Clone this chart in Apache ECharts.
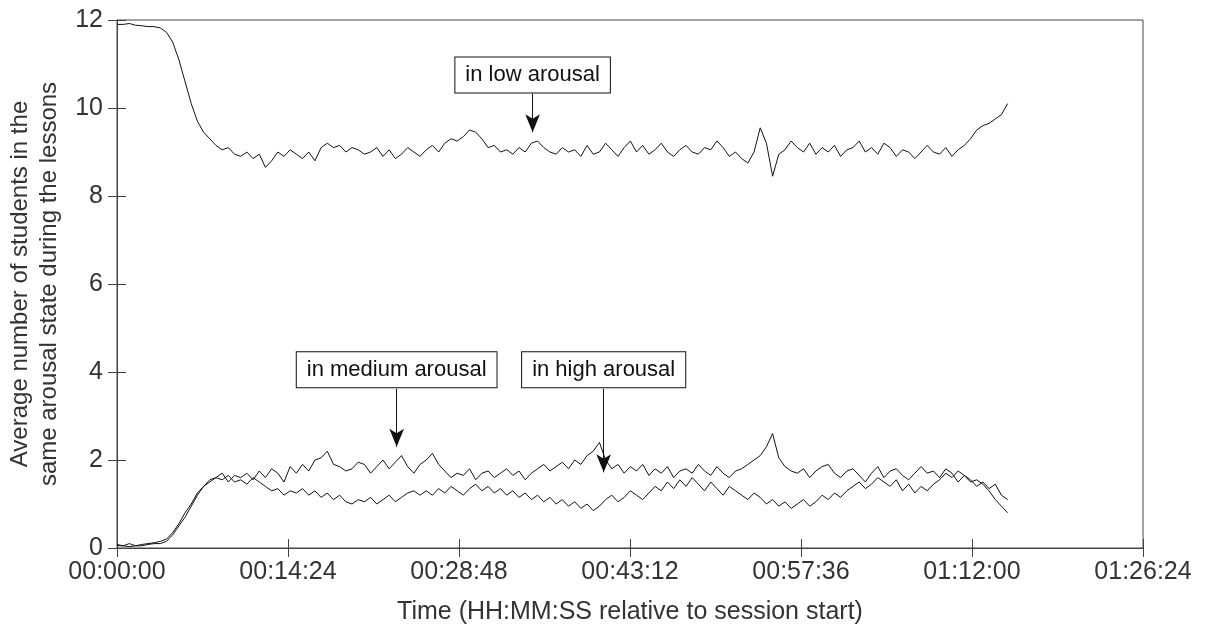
<!DOCTYPE html>
<html><head><meta charset="utf-8">
<script src="https://cdn.jsdelivr.net/npm/echarts@6/dist/echarts.min.js"></script>
<style>html,body{margin:0;background:#fff}#c{width:1205px;height:630px}</style>
</head><body><div id="c"></div>
<script>
const stepSeconds = 31.25;
const lowArousal = [11.9,11.9,11.92,11.88,11.87,11.85,11.85,11.82,11.72,11.5,
11.1,10.6,10.1,9.7,9.45,9.3,9.15,9.05,9.1,8.95,
8.9,9.0,8.85,8.95,8.65,8.8,9.0,8.9,9.05,8.95,
8.85,9.0,8.8,9.1,9.2,9.1,9.15,9.0,9.1,9.05,
8.95,9.0,9.1,8.9,9.05,8.85,8.95,9.1,9.0,8.9,
9.05,9.15,9.0,9.2,9.3,9.25,9.35,9.5,9.45,9.3,
9.1,9.15,9.0,9.05,8.95,9.1,9.0,9.2,9.25,9.1,
9.0,8.95,9.1,9.0,9.05,8.9,9.15,8.95,9.0,9.2,
9.05,8.9,9.1,9.25,9.0,9.15,8.95,9.05,9.2,9.0,
8.9,9.05,9.15,9.0,8.95,9.1,9.05,9.25,9.1,8.9,
9.0,8.85,8.75,9.0,9.55,9.2,8.45,8.95,9.05,9.25,
9.1,9.0,9.2,8.95,9.1,9.0,9.15,8.9,9.05,9.1,
9.25,9.0,9.1,8.95,9.2,9.1,8.9,9.05,9.0,8.85,
9.0,9.15,9.0,8.95,9.1,8.9,9.05,9.15,9.3,9.5,
9.6,9.65,9.75,9.85,10.1];
const mediumArousal = [0.05,0.05,0.03,0.05,0.05,0.08,0.1,0.1,0.15,0.3,
0.5,0.7,0.95,1.2,1.4,1.55,1.6,1.7,1.5,1.65,
1.6,1.7,1.55,1.75,1.6,1.8,1.7,1.5,1.85,1.7,
1.9,1.75,2.0,2.05,2.2,1.9,1.85,1.75,1.8,1.95,
1.9,1.7,1.85,2.0,1.8,1.95,2.1,1.85,1.7,1.9,
2.0,2.15,1.9,1.75,1.6,1.7,1.65,1.8,1.55,1.7,
1.75,1.6,1.7,1.8,1.65,1.75,1.55,1.7,1.8,1.9,
1.75,1.85,1.95,1.8,2.0,1.9,2.1,2.2,2.4,2.0,
1.8,1.9,1.7,1.85,1.75,1.9,1.65,1.8,1.7,1.85,
1.6,1.75,1.8,1.7,1.9,1.75,1.65,1.85,1.7,1.6,
1.75,1.8,1.9,2.0,2.1,2.3,2.6,2.05,1.85,1.75,
1.7,1.8,1.6,1.75,1.85,1.9,1.7,1.6,1.75,1.8,
1.65,1.5,1.7,1.85,1.6,1.75,1.8,1.65,1.55,1.7,
1.85,1.7,1.75,1.6,1.8,1.7,1.5,1.65,1.55,1.4,
1.5,1.35,1.45,1.2,1.1];
const highArousal = [0.08,0.05,0.1,0.05,0.08,0.1,0.12,0.15,0.2,0.35,
0.55,0.8,1.0,1.25,1.4,1.5,1.6,1.55,1.65,1.5,
1.55,1.45,1.6,1.5,1.4,1.3,1.35,1.2,1.3,1.25,
1.35,1.2,1.3,1.15,1.25,1.1,1.2,1.05,1.0,1.1,
1.05,1.15,1.0,1.1,1.2,1.05,1.15,1.25,1.3,1.2,
1.3,1.2,1.35,1.25,1.4,1.3,1.2,1.35,1.45,1.3,
1.4,1.25,1.35,1.2,1.3,1.15,1.25,1.1,1.2,1.05,
1.15,1.0,1.1,0.95,1.05,0.9,1.0,0.85,0.95,1.1,
1.2,1.05,1.15,1.3,1.2,1.1,1.25,1.4,1.3,1.5,
1.35,1.55,1.4,1.6,1.45,1.3,1.5,1.35,1.2,1.4,
1.3,1.2,1.1,1.25,1.15,1.0,1.1,0.95,1.05,0.9,
1.0,1.1,0.95,1.05,1.2,1.1,1.25,1.15,1.3,1.4,
1.5,1.35,1.45,1.6,1.5,1.4,1.55,1.3,1.45,1.25,
1.4,1.3,1.45,1.55,1.7,1.6,1.75,1.65,1.5,1.55,
1.45,1.3,1.1,0.95,0.8];
const annotations = [
  {text:'in low arousal', box:[2100,10.75], from:[2100,10.33], to:[2100,9.45]},
  {text:'in medium arousal', box:[1413,4.05], from:[1413,3.62], to:[1413,2.3]},
  {text:'in high arousal', box:[2459,4.05], from:[2459,3.62], to:[2459,1.72]}
];
const xMax = 5184, xInterval = 864;

function pairs(arr){return arr.map((v,i)=>[i*stepSeconds,v]);}
function fmt(s){const h=Math.floor(s/3600),m=Math.floor(s%3600/60),ss=Math.round(s%60);
  return [h,m,ss].map(n=>String(n).padStart(2,'0')).join(':');}
const font='Liberation Sans';
const tickCommon={inside:true,length:9,lineStyle:{color:'#444'}};
const chart=echarts.init(document.getElementById('c'));
const lineS=(d)=>({type:'line',data:pairs(d),showSymbol:false,symbol:'none',
  lineStyle:{color:'#111',width:1},animation:false,silent:true});
const s0=lineS(lowArousal);
s0.markPoint={symbol:'rect',symbolSize:0,animation:false,
  data:annotations.map(a=>({coord:a.box,label:{show:true,formatter:a.text,color:'#111',
    fontFamily:font,fontSize:22,backgroundColor:'#fff',borderColor:'#111',borderWidth:1,
    padding:[7,10,6,10]}}))};
s0.markLine={symbol:['none','arrow'],symbolSize:[11,18],animation:false,silent:true,
  label:{show:false},lineStyle:{color:'#111',width:1,type:'solid'},
  data:annotations.map(a=>[{coord:a.from},{coord:a.to}])};
chart.setOption({
  backgroundColor:'#fff',
  grid:{left:117,right:62,top:20,bottom:82,show:true,borderColor:'#444',borderWidth:1,
    containLabel:false,outerBoundsMode:'none'},
  xAxis:[{type:'value',min:0,max:xMax,interval:xInterval,
    name:'Time (HH:MM:SS relative to session start)',nameLocation:'middle',nameGap:52,
    nameTextStyle:{fontFamily:font,fontSize:25,color:'#333'},
    axisLine:{show:true,lineStyle:{color:'#444'}},axisTick:tickCommon,splitLine:{show:false},
    axisLabel:{formatter:fmt,fontFamily:font,fontSize:25,color:'#333',margin:12}},
    {type:'value',min:0,max:xMax,interval:xInterval,position:'top',
    axisLine:{show:true,lineStyle:{color:'#444'}},axisTick:tickCommon,axisLabel:{show:false},splitLine:{show:false}}],
  yAxis:[{type:'value',min:0,max:12,interval:2,
    name:'Average number of students in the\nsame arousal state during the lessons',
    nameLocation:'middle',nameGap:48,
    nameTextStyle:{fontFamily:font,fontSize:24,color:'#333',lineHeight:29},
    axisLine:{show:true,lineStyle:{color:'#444'}},axisTick:tickCommon,splitLine:{show:false},
    axisLabel:{fontFamily:font,fontSize:25,color:'#333',margin:14}},
    {type:'value',min:0,max:12,interval:2,position:'right',
    axisLine:{show:true,lineStyle:{color:'#444'}},axisTick:tickCommon,axisLabel:{show:false},splitLine:{show:false}}],
  series:[s0,lineS(mediumArousal),lineS(highArousal)]
});
</script></body></html>
